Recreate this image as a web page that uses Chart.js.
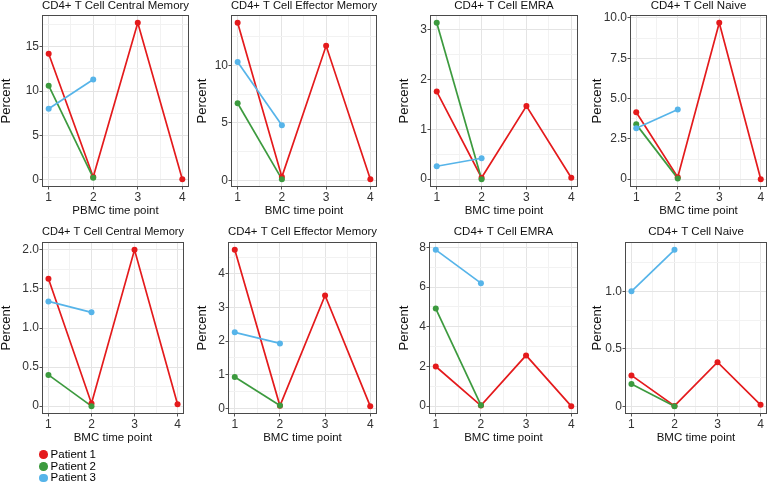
<!DOCTYPE html>
<html>
<head>
<meta charset="utf-8">
<script src="https://cdn.jsdelivr.net/npm/chart.js@4.4.1/dist/chart.umd.min.js"></script>
<style>
  html, body { margin: 0; padding: 0; background: #fff; }
  #wrap { position: relative; width: 774px; height: 483px; overflow: hidden; background: #fff; font-family: 'Liberation Sans', Arial, sans-serif; }
  canvas { position: absolute; }
  .leg { position: absolute; left: 39px; font-size: 11.5px; color: #000; line-height: 12px; height: 12px; white-space: nowrap; }
  .leg span.dot { display: inline-block; width: 8.6px; height: 8.6px; border-radius: 50%; vertical-align: -1px; margin-right: 3px; }
</style>
</head>
<body>
<div id="wrap"></div>
<script>
// ---------- data ----------
const timePoints = [1, 2, 3, 4];
const xTickLabels = ['1', '2', '3', '4'];
const patientNames = ['Patient 1', 'Patient 2', 'Patient 3'];
const patientColors = ['#E41A1C', '#3C9A3E', '#56B4E9'];

// top row
const cmTop_p1 = [14.2, 0.3, 17.7, 0.05];
const cmTop_p2 = [10.6, 0.2];
const cmTop_p3 = [8.0, 11.3];
const emTop_p1 = [13.7, 0.3, 11.7, 0.1];
const emTop_p2 = [6.7, 0.1];
const emTop_p3 = [10.3, 4.8];
const emraTop_p1 = [1.76, 0.03, 1.47, 0.03];
const emraTop_p2 = [3.14, 0.0];
const emraTop_p3 = [0.26, 0.42];
const naiveTop_p1 = [4.15, 0.12, 9.7, 0.0];
const naiveTop_p2 = [3.4, 0.05];
const naiveTop_p3 = [3.16, 4.32];
// bottom row
const cmBot_p1 = [1.63, 0.035, 2.0, 0.025];
const cmBot_p2 = [0.40, 0.0];
const cmBot_p3 = [1.34, 1.2];
const emBot_p1 = [4.72, 0.07, 3.36, 0.06];
const emBot_p2 = [0.93, 0.08];
const emBot_p3 = [2.26, 1.93];
const emraBot_p1 = [2.0, 0.03, 2.56, 0.0];
const emraBot_p2 = [4.92, 0.05];
const emraBot_p3 = [7.88, 6.2];
const naiveBot_p1 = [0.27, 0.005, 0.385, 0.015];
const naiveBot_p2 = [0.195, 0.003];
const naiveBot_p3 = [1.0, 1.36];

// y tick values and labels
const yTicksCmTop = [0, 5, 10, 15];           const yLabelsCmTop = ['0', '5', '10', '15'];
const yTicksEmTop = [0, 5, 10];               const yLabelsEmTop = ['0', '5', '10'];
const yTicksEmraTop = [0, 1, 2, 3];           const yLabelsEmraTop = ['0', '1', '2', '3'];
const yTicksNaiveTop = [0, 2.5, 5, 7.5, 10];  const yLabelsNaiveTop = ['0', '2.5', '5.0', '7.5', '10.0'];
const yTicksCmBot = [0, 0.5, 1, 1.5, 2];      const yLabelsCmBot = ['0', '0.5', '1.0', '1.5', '2.0'];
const yTicksEmBot = [0, 1, 2, 3, 4];          const yLabelsEmBot = ['0', '1', '2', '3', '4'];
const yTicksEmraBot = [0, 2, 4, 6, 8];        const yLabelsEmraBot = ['0', '2', '4', '6', '8'];
const yTicksNaiveBot = [0, 0.5, 1];           const yLabelsNaiveBot = ['0', '0.5', '1.0'];

// ---------- layout ----------
const rows = [
  { canvasTop: 0, canvasH: 222, plotTop: 15, plotBottom: 187, titlePad: { top: 0.25, bottom: 3.25 }, xTitlePadBottom: 5.25 },
  { canvasTop: 225, canvasH: 225, plotTop: 242, plotBottom: 414, titlePad: { top: 0.75, bottom: 4.75 }, xTitlePadBottom: 6.75 }
];
const colLefts = [0, 196, 398, 591];

const panels = [
  { row: 0, col: 0, title: 'CD4+ T Cell Central Memory', xTitle: 'PBMC time point', series: [cmTop_p1, cmTop_p2, cmTop_p3], yT: yTicksCmTop, yL: yLabelsCmTop, left: 42, right: 193 },
  { row: 0, col: 1, title: 'CD4+ T Cell Effector Memory', xTitle: 'BMC time point', series: [emTop_p1, emTop_p2, emTop_p3], yT: yTicksEmTop, yL: yLabelsEmTop, left: 231, right: 381 },
  { row: 0, col: 2, title: 'CD4+ T Cell EMRA', xTitle: 'BMC time point', series: [emraTop_p1, emraTop_p2, emraTop_p3], yT: yTicksEmraTop, yL: yLabelsEmraTop, left: 430, right: 582 },
  { row: 0, col: 3, title: 'CD4+ T Cell Naive', xTitle: 'BMC time point', series: [naiveTop_p1, naiveTop_p2, naiveTop_p3], yT: yTicksNaiveTop, yL: yLabelsNaiveTop, left: 630, right: 771 },
  { row: 1, col: 0, title: 'CD4+ T Cell Central Memory', xTitle: 'BMC time point', series: [cmBot_p1, cmBot_p2, cmBot_p3], yT: yTicksCmBot, yL: yLabelsCmBot, left: 42, right: 188 },
  { row: 1, col: 1, title: 'CD4+ T Cell Effector Memory', xTitle: 'BMC time point', series: [emBot_p1, emBot_p2, emBot_p3], yT: yTicksEmBot, yL: yLabelsEmBot, left: 228, right: 381 },
  { row: 1, col: 2, title: 'CD4+ T Cell EMRA', xTitle: 'BMC time point', series: [emraBot_p1, emraBot_p2, emraBot_p3], yT: yTicksEmraBot, yL: yLabelsEmraBot, left: 429, right: 582 },
  { row: 1, col: 3, title: 'CD4+ T Cell Naive', xTitle: 'BMC time point', series: [naiveBot_p1, naiveBot_p2, naiveBot_p3], yT: yTicksNaiveBot, yL: yLabelsNaiveBot, left: 625, right: 771 }
];

Chart.defaults.font.family = "'Liberation Sans', Arial, sans-serif";
Chart.defaults.color = '#333';

const panelBox = {
  id: 'panelBox',
  afterDraw(chart) {
    const a = chart.chartArea, ctx = chart.ctx;
    ctx.save();
    ctx.strokeStyle = '#4a4a4a';
    ctx.lineWidth = 1;
    const l = Math.round(a.left) + 0.5, t = Math.round(a.top) + 0.5;
    const r = Math.round(a.right) - 0.5, b = Math.round(a.bottom) - 0.5;
    ctx.strokeRect(l, t, r - l, b - t);
    ctx.restore();
  }
};

const near = (a, b) => Math.abs(a - b) < 1e-9;
const wrap = document.getElementById('wrap');

panels.forEach(p => {
  const row = rows[p.row];
  const lc = colLefts[p.col];
  const cw = p.right - lc;
  const canvas = document.createElement('canvas');
  canvas.width = cw; canvas.height = row.canvasH;
  canvas.style.left = lc + 'px'; canvas.style.top = row.canvasTop + 'px';
  canvas.style.width = cw + 'px'; canvas.style.height = row.canvasH + 'px';
  wrap.appendChild(canvas);

  // axis limits (ggplot-like 5% expansion)
  const allY = [].concat(...p.series);
  const yMin = Math.min(...allY), yMax = Math.max(...allY);
  const yr = yMax - yMin;
  const yLo = yMin - 0.05 * yr, yHi = yMax + 0.05 * yr;
  const xSpan = timePoints[timePoints.length - 1] - timePoints[0];
  const xLo = timePoints[0] - 0.05 * xSpan;
  const xHi = timePoints[timePoints.length - 1] + 0.05 * xSpan;

  // major + minor grid positions
  const step = p.yT[1] - p.yT[0];
  const yAll = [];
  if (p.yT[0] - step / 2 >= yLo) yAll.push(p.yT[0] - step / 2);
  p.yT.forEach((v, i) => { yAll.push(v); if (i < p.yT.length - 1) yAll.push(v + step / 2); });
  if (p.yT[p.yT.length - 1] + step / 2 <= yHi) yAll.push(p.yT[p.yT.length - 1] + step / 2);
  const xAll = [];
  timePoints.forEach((v, i) => { xAll.push(v); if (i < timePoints.length - 1) xAll.push(v + 0.5); });

  const yIsMajor = v => p.yT.some(m => near(m, v));
  const xIsMajor = v => timePoints.some(m => near(m, v));

  const datasets = [];
  p.series.forEach((vals, i) => {
    const pts = vals.map((v, j) => ({ x: timePoints[j], y: v }));
    datasets.push({ label: patientNames[i] + ' line', data: pts, borderColor: patientColors[i], borderWidth: 1.7, pointRadius: 0, fill: false, tension: 0, order: 10 + (3 - i) });
    datasets.push({ label: patientNames[i], data: pts, showLine: false, pointRadius: 3, pointBorderWidth: 0, pointBackgroundColor: patientColors[i], backgroundColor: patientColors[i], order: 3 - i });
  });

  new Chart(canvas, {
    type: 'line',
    data: { datasets },
    options: {
      responsive: false,
      animation: false,
      events: [],
      layout: { padding: 0 },
      plugins: {
        legend: { display: false },
        tooltip: { enabled: false },
        title: {
          display: true, text: p.title, fullSize: false, color: '#111',
          font: { size: 11.5, weight: 'normal', lineHeight: 1 },
          padding: row.titlePad
        }
      },
      scales: {
        x: {
          type: 'linear', min: xLo, max: xHi,
          afterBuildTicks: s => { s.ticks = xAll.map(v => ({ value: v })); },
          afterFit: s => { s.height = (row.canvasTop + row.canvasH) - row.plotBottom; },
          ticks: {
            autoSkip: false, maxRotation: 0, minRotation: 0, padding: 2, color: '#333',
            font: { size: 12, lineHeight: 1 },
            callback: v => { const i = timePoints.findIndex(m => near(m, v)); return i >= 0 ? xTickLabels[i] : ''; }
          },
          grid: {
            color: c => xIsMajor(c.tick.value) ? '#e4e4e4' : '#f2f2f2',
            lineWidth: 1, tickLength: 2.5,
            tickColor: c => xIsMajor(c.tick.value) ? '#555' : 'rgba(0,0,0,0)'
          },
          border: { display: false },
          title: { display: true, text: p.xTitle, color: '#111', font: { size: 11.5, lineHeight: 1 }, padding: { top: 0, bottom: row.xTitlePadBottom } }
        },
        y: {
          type: 'linear', min: yLo, max: yHi,
          afterBuildTicks: s => { s.ticks = yAll.map(v => ({ value: v })); },
          afterFit: s => { s.width = p.left - lc; },
          ticks: {
            autoSkip: false, padding: 0.5, color: '#333',
            font: { size: 12, lineHeight: 1 },
            callback: v => { const i = p.yT.findIndex(m => near(m, v)); return i >= 0 ? p.yL[i] : ''; }
          },
          grid: {
            color: c => yIsMajor(c.tick.value) ? '#e4e4e4' : '#f2f2f2',
            lineWidth: 1, tickLength: 2.5,
            tickColor: c => yIsMajor(c.tick.value) ? '#555' : 'rgba(0,0,0,0)'
          },
          border: { display: false },
          title: { display: true, text: 'Percent', color: '#111', font: { size: 13, lineHeight: 1 }, padding: { top: 0, bottom: 0 } }
        }
      }
    },
    plugins: [panelBox]
  });
});

// legend (HTML text)
const legTops = [448, 459.7, 471.4];
patientNames.forEach((n, i) => {
  const d = document.createElement('div');
  d.className = 'leg';
  d.style.top = legTops[i] + 'px';
  d.innerHTML = '<span class="dot" style="background:' + patientColors[i] + '"></span>' + n;
  wrap.appendChild(d);
});
</script>
</body>
</html>
